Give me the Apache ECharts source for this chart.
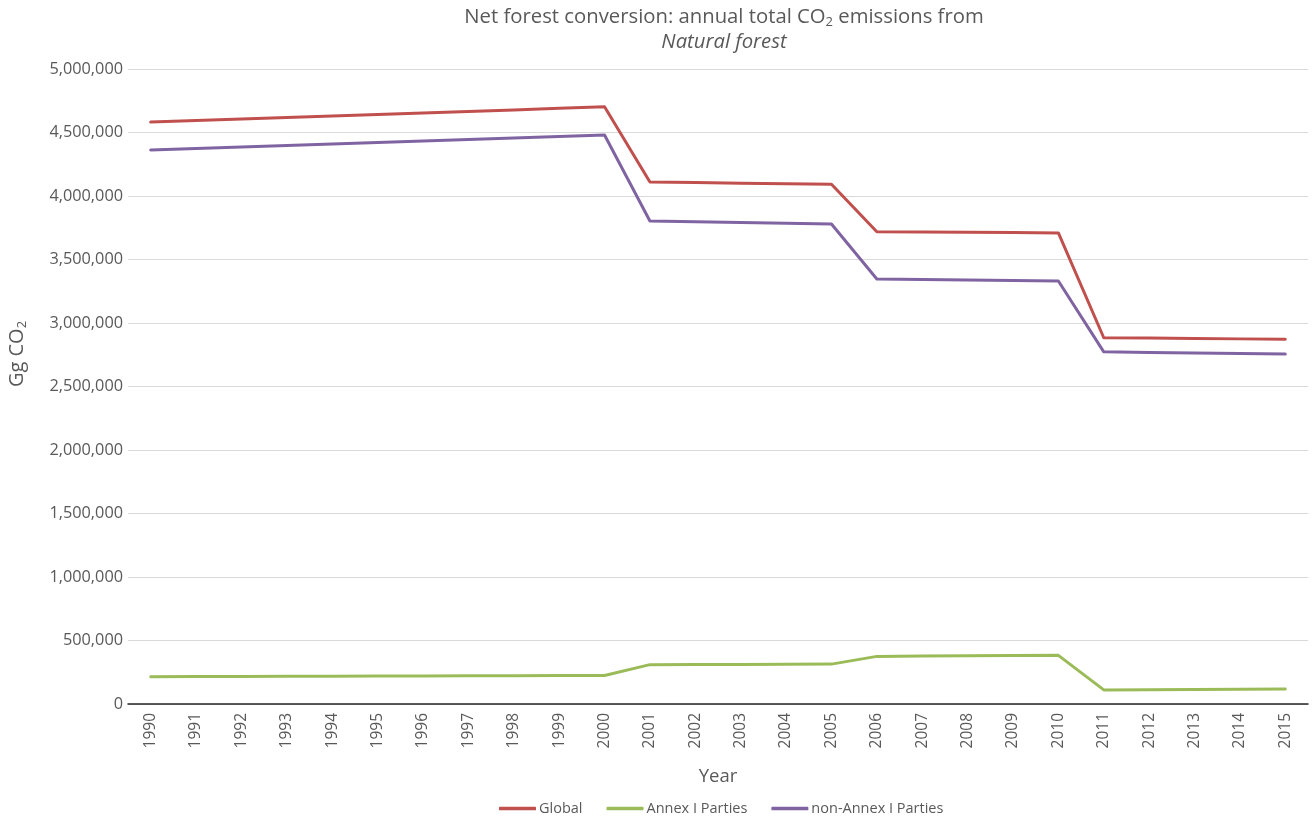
<!DOCTYPE html>
<html>
<head>
<meta charset="utf-8">
<script src="https://cdn.jsdelivr.net/npm/echarts@6/dist/echarts.min.js"></script>
<style>
  html, body { margin: 0; padding: 0; background: #fff; }
  #chart { width: 1316px; height: 818px; }
</style>
</head>
<body>
<div id="chart"></div>
<script>
// Years on the category axis
const years = ['1990','1991','1992','1993','1994','1995','1996','1997','1998','1999','2000',
  '2001','2002','2003','2004','2005','2006','2007','2008','2009','2010',
  '2011','2012','2013','2014','2015'];

// Annual CO2 emissions, Gg CO2
const globalValues = [4582000,4594000,4606000,4618000,4630000,4642000,4654000,4666000,4678000,4690000,4702000,
  4110000,4106000,4101000,4097000,4093000,3718000,3716000,3714000,3712000,3709000,
  2884000,2881000,2878000,2875000,2872000];
const annexValues = [215000,216000,217000,218000,219000,220000,221000,222000,223000,224000,225000,
  310000,311000,312000,313000,314000,375000,377000,379000,381000,383000,
  111000,113000,115000,116000,118000];
const nonAnnexValues = [4362000,4374000,4386000,4398000,4409000,4421000,4433000,4445000,4457000,4468000,4480000,
  3803000,3797000,3792000,3786000,3780000,3346000,3342000,3339000,3335000,3331000,
  2773000,2768000,2763000,2759000,2755000];

const seriesNames = ['Global', 'Annex I Parties', 'non-Annex I Parties'];
const colors = ['#C0504D', '#9BBB59', '#8064A2'];

const FONT = '"Open Sans", "Noto Sans", sans-serif';
const TEXT = '#595959';

const chart = echarts.init(document.getElementById('chart'));

function lineSeries(name, data, color) {
  return {
    name: name,
    type: 'line',
    data: data,
    symbol: 'none',
    smooth: false,
    lineStyle: { color: color, width: 3, cap: 'round', join: 'round' },
    itemStyle: { color: color },
    emphasis: { disabled: true }
  };
}

chart.setOption({
  animation: false,
  textStyle: { fontFamily: FONT },
  color: colors,
  title: {
    left: 719,
    textAlign: 'center',
    top: 0,
    padding: [5, 5, 5, 5],
    text: '{a|Net forest conversion: annual total CO}{sub|2}{a| emissions from}\n{i|Natural forest}',
    textStyle: {
      fontWeight: 'normal',
      rich: {
        a: { fontFamily: FONT, fontSize: 20.3, fontWeight: 'normal', color: TEXT, lineHeight: 25 },
        sub: { fontFamily: FONT, fontSize: 13, fontWeight: 'normal', color: TEXT, lineHeight: 25, padding: [10, 0, 0, 0] },
        i: { fontFamily: FONT, fontSize: 20.3, fontWeight: 'normal', color: TEXT, fontStyle: 'italic', lineHeight: 25 }
      }
    }
  },
  grid: { left: 128, right: 8, top: 69, bottom: 114, containLabel: false },
  legend: {
    top: 796,
    left: 494,
    data: seriesNames,
    icon: 'roundRect',
    itemWidth: 37,
    itemHeight: 3.5,
    itemGap: 24,
    textStyle: { fontFamily: FONT, fontSize: 14.5, color: TEXT, padding: [0, 0, 0, -2] }
  },
  xAxis: {
    type: 'category',
    data: years,
    boundaryGap: true,
    name: 'Year',
    nameLocation: 'middle',
    nameGap: 63,
    nameTextStyle: { fontFamily: FONT, fontSize: 18.5, color: TEXT },
    axisLine: { lineStyle: { color: '#262626', width: 1.5 } },
    axisTick: { show: false },
    axisLabel: { rotate: 90, interval: 0, fontFamily: FONT, fontSize: 15.5, color: TEXT, margin: 9 },
    splitLine: { show: false }
  },
  yAxis: {
    type: 'value',
    min: 0,
    max: 5000000,
    interval: 500000,
    axisLine: { show: false },
    axisTick: { show: false },
    axisLabel: {
      fontFamily: FONT, fontSize: 16.3, color: TEXT, margin: 5,
      formatter: v => v.toLocaleString('en-US')
    },
    splitLine: { lineStyle: { color: '#D9D9D9', width: 1 } }
  },
  graphic: [{
    type: 'text',
    x: 4,
    y: 354,
    rotation: Math.PI / 2,
    style: {
      text: '{a|Gg CO}{sub|2}',
      align: 'center',
      verticalAlign: 'top',
      rich: {
        a: { fontFamily: FONT, fontSize: 20, fill: TEXT, lineHeight: 26 },
        sub: { fontFamily: FONT, fontSize: 13, fill: TEXT, lineHeight: 26, padding: [10, 0, 0, 0] }
      }
    }
  }],
  series: [
    lineSeries(seriesNames[0], globalValues, colors[0]),
    lineSeries(seriesNames[1], annexValues, colors[1]),
    lineSeries(seriesNames[2], nonAnnexValues, colors[2])
  ]
});
</script>
</body>
</html>
